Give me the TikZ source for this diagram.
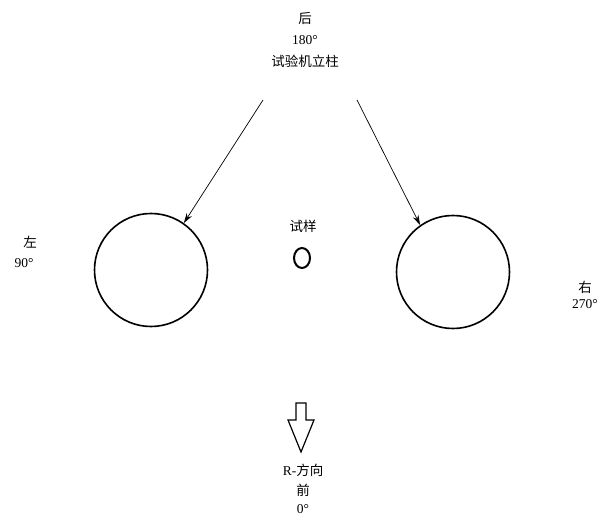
\documentclass[tikz,border=0pt]{standalone}
\usepackage{fontspec}
\setmainfont{Liberation Serif}
\newfontfamily\cjk{Noto Sans CJK SC}
\usetikzlibrary{arrows.meta,shapes.geometric}
\begin{document}
\begin{tikzpicture}[x=1pt,y=-1pt,
  lbl/.style={font=\fontsize{13.5}{15}\selectfont\cjk, inner sep=0pt, align=center},
  num/.style={font=\fontsize{13.5}{15}\selectfont, inner sep=0pt},
  ring/.style={draw, line width=1.6pt},
  ptr/.style={draw, line width=0.7pt, -{Stealth[length=10pt,width=6pt]}}]
\useasboundingbox (0,0) rectangle (609,526);
\node[lbl] (hou) at (305,18) {后};
\node[num] (d180) at (305,40) {180°};
\node[lbl] (zhu) at (305,61) {试验机立柱};
\coordinate (s1) at (263,100);
\coordinate (s2) at (357,100);
\node[ring, circle, minimum size=113pt, inner sep=0pt] (L) at (151,270) {};
\node[ring, circle, minimum size=113pt, inner sep=0pt] (R) at (453,272) {};
\draw[ptr] (s1) -- (L.55);
\draw[ptr] (s2) -- (R.125);
\node[lbl] (zuo) at (30,242) {左};
\node[num] (d90) at (24,263) {90°};
\node[lbl] (you) at (585,287) {右};
\node[num] (d270) at (585,304) {270°};
\node[lbl] (sy) at (303,226) {试样};
\node[draw, line width=2pt, ellipse, minimum width=16pt, minimum height=20pt, inner sep=0pt] (o) at (302,258) {};
\draw[line width=1.2pt, line join=miter] (296,403) -- (306,403) -- (306,420) -- (314,420) -- (301,452) -- (288,420) -- (296,420) -- cycle;
\node[lbl] (rdir) at (303,470) {\fontspec{Liberation Serif}R-\cjk 方向};
\node[lbl] (qian) at (303,490) {前};
\node[num] (d0) at (303,509) {0°};
\end{tikzpicture}
\end{document}
